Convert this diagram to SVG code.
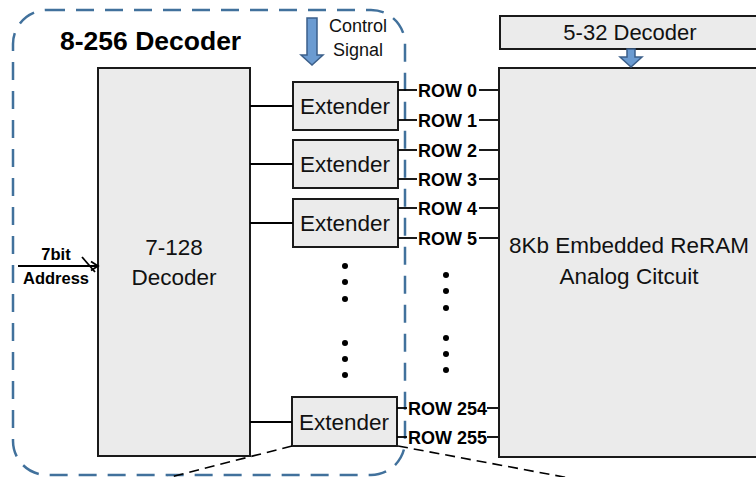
<svg xmlns="http://www.w3.org/2000/svg" width="756" height="477" viewBox="0 0 756 477">
  <defs>
    <style>
      .box { fill: #ebebeb; stroke: #1a1a1a; stroke-width: 2; }
      .wire { stroke: #000; stroke-width: 1.8; fill: none; }
      .t { font-family: "Liberation Sans", Arial, sans-serif; fill: #111; }
      .b { font-family: "Liberation Sans", Arial, sans-serif; font-weight: bold; fill: #000; }
      .row { font-size: 18px; }
      .ext { font-size: 22.5px; text-anchor: middle; }
      .dot { fill: #000; }
      .barrow { fill: #6b9bd1; stroke: #3b5f8a; stroke-width: 1.5; }
    </style>
  </defs>
  <rect width="756" height="477" fill="#fff"/>

  <!-- 8-256 decoder boundary -->
  <g id="decoder-8-256">
    <rect x="13" y="10" width="392" height="465" rx="34" ry="34" fill="none" stroke="#41719c" stroke-width="2.5" stroke-dasharray="18 11"/>
    <text class="b" x="60" y="50" font-size="26.5">8-256 Decoder</text>
  </g>

  <!-- control signal -->
  <g id="control-signal">
    <polygon class="barrow" points="307,18 317,18 317,55 323,55 312,65 301,55 307,55"/>
    <text class="t" x="358" y="32" font-size="18" text-anchor="middle">Control</text>
    <text class="t" x="358" y="56" font-size="18" text-anchor="middle">Signal</text>
  </g>

  <!-- 7-128 decoder -->
  <g id="decoder-7-128">
    <rect class="box" x="98" y="68" width="152" height="388"/>
    <text class="t" x="174" y="255" font-size="22.5" text-anchor="middle">7-128</text>
    <text class="t" x="174" y="285" font-size="22.5" text-anchor="middle">Decoder</text>
  </g>

  <!-- extenders -->
  <g id="extender-1">
    <rect class="box" x="293" y="82" width="105" height="48"/>
    <text class="t ext" x="345" y="114">Extender</text>
  </g>
  <g id="extender-2">
    <rect class="box" x="293" y="140" width="105" height="48"/>
    <text class="t ext" x="345" y="172">Extender</text>
  </g>
  <g id="extender-3">
    <rect class="box" x="293" y="199" width="105" height="48"/>
    <text class="t ext" x="345" y="231">Extender</text>
  </g>
  <g id="extender-4">
    <rect class="box" x="292" y="397" width="105" height="49"/>
    <text class="t ext" x="344" y="430">Extender</text>
  </g>

  <!-- 5-32 decoder -->
  <g id="decoder-5-32">
    <rect class="box" x="500" y="16" width="262" height="33"/>
    <text class="t" x="630" y="40" font-size="22" text-anchor="middle">5-32 Decoder</text>
  </g>

  <!-- ReRAM array -->
  <g id="reram">
    <rect class="box" x="499" y="68" width="264" height="389"/>
    <text class="t" x="629" y="253" font-size="22.5" text-anchor="middle">8Kb Embedded ReRAM</text>
    <text class="t" x="629" y="284" font-size="22.5" text-anchor="middle">Analog Citcuit</text>
  </g>

  <!-- address input -->
  <g id="address">
    <text class="b" x="56" y="260" font-size="16.5" text-anchor="middle">7bit</text>
    <text class="b" x="56" y="284" font-size="16.5" text-anchor="middle">Address</text>
  </g>

  <!-- row labels -->
  <g id="row-labels">
    <text class="b row" x="418" y="96.5">ROW 0</text>
    <text class="b row" x="418" y="126.5">ROW 1</text>
    <text class="b row" x="418" y="156.5">ROW 2</text>
    <text class="b row" x="418" y="185.5">ROW 3</text>
    <text class="b row" x="418" y="214.5">ROW 4</text>
    <text class="b row" x="418" y="244.5">ROW 5</text>
    <text class="b row" x="408" y="414.5">ROW 254</text>
    <text class="b row" x="408" y="443.5">ROW 255</text>
  </g>

  <!-- continuation dots -->
  <g id="dots">
    <circle class="dot" cx="345" cy="266" r="3"/>
    <circle class="dot" cx="345" cy="282" r="3"/>
    <circle class="dot" cx="345" cy="299" r="3"/>
    <circle class="dot" cx="345" cy="343" r="3"/>
    <circle class="dot" cx="345" cy="359" r="3"/>
    <circle class="dot" cx="345" cy="375" r="3"/>
    <circle class="dot" cx="446" cy="275" r="3"/>
    <circle class="dot" cx="446" cy="291" r="3"/>
    <circle class="dot" cx="446" cy="308" r="3"/>
    <circle class="dot" cx="446" cy="338" r="3"/>
    <circle class="dot" cx="446" cy="354" r="3"/>
    <circle class="dot" cx="446" cy="370" r="3"/>
  </g>

  <!-- connectors -->
  <g id="connectors">
    <!-- decoder to extenders -->
    <line class="wire" x1="250" y1="106" x2="293" y2="106"/>
    <line class="wire" x1="250" y1="164" x2="293" y2="164"/>
    <line class="wire" x1="250" y1="223" x2="293" y2="223"/>
    <line class="wire" x1="250" y1="422" x2="292" y2="422"/>

    <!-- extender outputs -->
    <line class="wire" x1="398" y1="90" x2="417" y2="90"/>
    <line class="wire" x1="398" y1="120" x2="417" y2="120"/>
    <line class="wire" x1="398" y1="150" x2="417" y2="150"/>
    <line class="wire" x1="398" y1="179" x2="417" y2="179"/>
    <line class="wire" x1="398" y1="208" x2="417" y2="208"/>
    <line class="wire" x1="398" y1="238" x2="417" y2="238"/>
    <line class="wire" x1="397" y1="408" x2="407" y2="408"/>
    <line class="wire" x1="397" y1="437" x2="407" y2="437"/>

    <!-- rows into array -->
    <line class="wire" x1="479" y1="90" x2="498" y2="90"/>
    <line class="wire" x1="479" y1="120" x2="498" y2="120"/>
    <line class="wire" x1="479" y1="150" x2="498" y2="150"/>
    <line class="wire" x1="479" y1="179" x2="498" y2="179"/>
    <line class="wire" x1="479" y1="208" x2="498" y2="208"/>
    <line class="wire" x1="479" y1="238" x2="498" y2="238"/>
    <line class="wire" x1="487" y1="408" x2="498" y2="408"/>
    <line class="wire" x1="487" y1="437" x2="498" y2="437"/>

    <!-- 7bit address bus -->
    <line class="wire" x1="18" y1="266" x2="97" y2="266"/>
    <line class="wire" x1="82" y1="257" x2="95" y2="272" stroke-width="1.3"/>
    <polyline class="wire" points="91,261.5 98,266 91,270.5" stroke-width="1.3"/>

    <!-- 5-32 decoder to array -->
    <polygon class="barrow" points="627,49 635,49 635,57 642,57 631,67 620,57 627,57"/>

    <!-- zoom-out guides -->
    <line x1="292" y1="446" x2="147" y2="483" stroke="#000" stroke-width="1.6" stroke-dasharray="10 6"/>
    <line x1="398" y1="446" x2="596" y2="483" stroke="#000" stroke-width="1.6" stroke-dasharray="10 6"/>
  </g>
</svg>
